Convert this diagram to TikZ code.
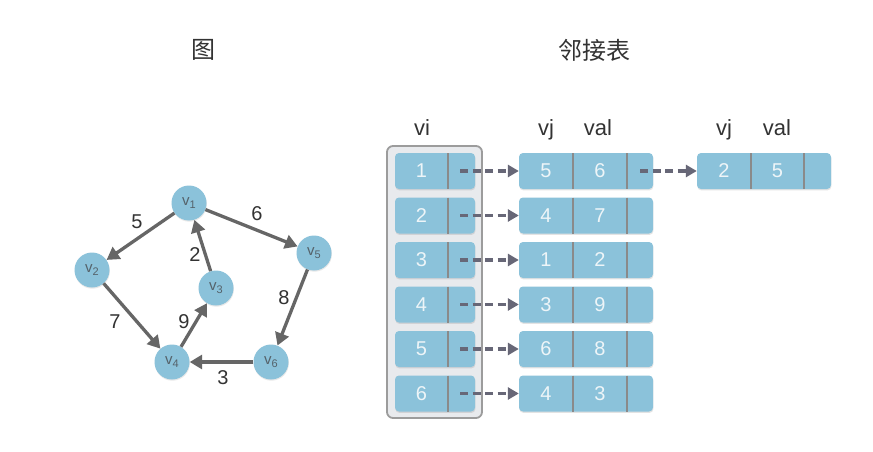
\documentclass[tikz,border=0pt]{standalone}
\usepackage{fontspec}
\setmainfont{Liberation Sans}
\newfontfamily\cjk{Noto Sans CJK SC}
\usetikzlibrary{arrows.meta,shadows}
\definecolor{nodeblue}{HTML}{8BC2DA}
\definecolor{edgegray}{HTML}{666666}
\definecolor{ptrgray}{HTML}{676777}
\definecolor{divgray}{HTML}{8A8A8A}
\definecolor{boxfill}{HTML}{E8EAED}
\definecolor{boxline}{HTML}{9C9C9C}
\definecolor{txt}{HTML}{333333}
\definecolor{vtxt}{HTML}{55626A}
\definecolor{celltxt}{HTML}{EEF5F8}
\tikzset{
  vertex/.style={circle, fill=nodeblue, minimum size=35pt, inner sep=0pt, text=vtxt,
    drop shadow={opacity=0.18, shadow xshift=0.4pt, shadow yshift=-1.2pt}},
  edge/.style={draw=edgegray, line width=3.3pt, -{Triangle[length=12.5pt,width=14pt]}},
  wlabel/.style={text=txt, font=\fontsize{20}{20}\selectfont},
  title/.style={text=txt, font=\cjk\fontsize{24}{24}\selectfont},
  header/.style={text=txt, font=\fontsize{22}{22}\selectfont, anchor=base},
  cellbox/.style={rectangle, rounded corners=4pt, fill=nodeblue, minimum height=36pt, inner sep=0pt,
    drop shadow={opacity=0.22, shadow xshift=0.4pt, shadow yshift=-1.4pt}},
  celltext/.style={text=celltxt, font=\fontsize{20}{20}\selectfont},
  divider/.style={draw=divgray, line width=1.6pt},
  ptr/.style={draw=ptrgray, line width=3.6pt, dash pattern=on 8pt off 4.5pt, -{Triangle[length=11pt,width=12pt]}},
  outerbox/.style={draw=boxline, fill=boxfill, line width=1.8pt, rounded corners=6pt}
}
\newcommand{\vlab}[1]{\fontsize{15}{15}\selectfont v\raisebox{-2.2pt}{\fontsize{11}{11}\selectfont #1}}
\begin{document}
\begin{tikzpicture}[x=1pt,y=-1pt]
\useasboundingbox (0,0) rectangle (873,452);
\fill[white] (0,0) rectangle (873,452);

% titles
\node[title] (t1) at (203,50) {图};
\node[title] (t2) at (594,50) {邻接表};

% graph
\node[vertex] (v1) at (189,203) {\vlab{1}};
\node[vertex] (v2) at (92,270) {\vlab{2}};
\node[vertex] (v3) at (216,288) {\vlab{3}};
\node[vertex] (v5) at (314,253) {\vlab{5}};
\node[vertex] (v4) at (172,362) {\vlab{4}};
\node[vertex] (v6) at (271,362) {\vlab{6}};

\draw[edge] (v1) -- (v2);
\draw[edge] (v1) -- (v5);
\draw[edge] (v3) -- (v1);
\draw[edge] (v2) -- (v4);
\draw[edge] (v4) -- (v3);
\draw[edge] (v5) -- (v6);
\draw[edge] (v6) -- (v4);

\node[wlabel] (w5) at (137,222) {5};
\node[wlabel] (w6) at (257,214) {6};
\node[wlabel] (w2) at (195,255) {2};
\node[wlabel] (w8) at (284,298) {8};
\node[wlabel] (w7) at (115,322) {7};
\node[wlabel] (w9) at (184,322) {9};
\node[wlabel] (w3) at (223,378) {3};

% headers
\node[header] (hvi) at (422,135) {vi};
\node[header] (hvj) at (546,135) {vj};
\node[header] (hval) at (598,135) {val};
\node[header] (hvj2) at (724,135) {vj};
\node[header] (hval2) at (777,135) {val};

% outer box of heads
\draw[outerbox] (387,146) rectangle (482,418);

% rows
\foreach \r/\y/\a/\b in {1/171/5/6, 2/215.5/4/7, 3/260/1/2, 4/304.5/3/9, 5/349/6/8, 6/393.5/4/3}{
  \node[cellbox, minimum width=80pt] (h\r) at (435,\y) {};
  \draw[divider] (448,\y-18) -- (448,\y+18);
  \node[celltext] (hn\r) at (421.5,\y) {\r};
  \coordinate (hp\r) at (460,\y);
  \node[cellbox, minimum width=134pt] (l\r) at (586,\y) {};
  \draw[divider] (573,\y-18) -- (573,\y+18);
  \draw[divider] (627,\y-18) -- (627,\y+18);
  \node[celltext] (la\r) at (546,\y) {\a};
  \node[celltext] (lb\r) at (600,\y) {\b};
  \draw[ptr] (hp\r) -- (l\r.west);
}

% third list on row 1
\node[cellbox, minimum width=134pt] (m1) at (764,171) {};
\draw[divider] (751,153) -- (751,189);
\draw[divider] (804,153) -- (804,189);
\node[celltext] (ma1) at (724,171) {2};
\node[celltext] (mb1) at (777.5,171) {5};
\coordinate (lp1) at (640,171);
\draw[ptr] (lp1) -- (m1.west);
\end{tikzpicture}
\end{document}
